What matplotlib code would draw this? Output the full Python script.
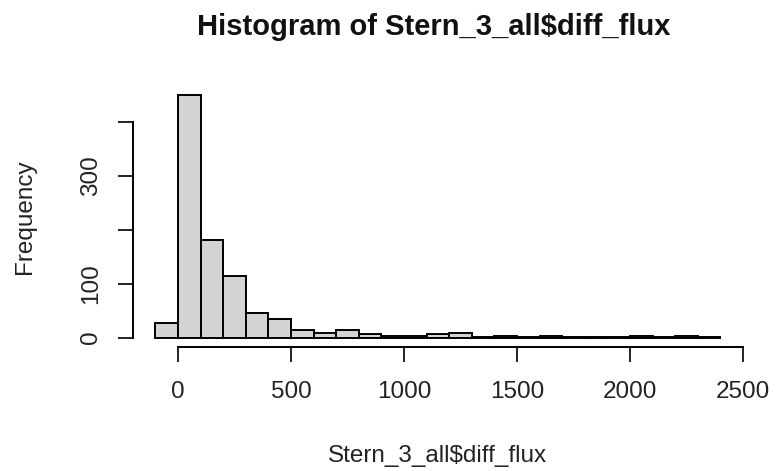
import matplotlib
matplotlib.use("Agg")
import matplotlib.pyplot as plt

bin_left = [-100, 0, 100, 200, 300, 400, 500, 600, 700, 800, 900, 1000, 1100, 1200,
            1300, 1400, 1500, 1600, 1700, 1800, 1900, 2000, 2100, 2200, 2300]
counts = [27, 450, 181, 114, 46, 34, 15, 9, 15, 6, 3, 3, 7, 8,
          1, 3, 1, 3, 2, 1, 1, 3, 2, 3, 2]
bin_width = 100
x_ticks = [0, 500, 1000, 1500, 2000, 2500]
y_ticks = [0, 100, 200, 300, 400]
y_tick_labels = ["0", "100", "", "300", ""]

plt.rcParams['font.family'] = ['Liberation Sans', 'DejaVu Sans']

W, H = 778, 471
fig = plt.figure(figsize=(W/100, H/100), dpi=100)
L, R, T, B = 132.7, 743, 85, 347.4
ax = fig.add_axes([L/W, 1-B/H, (R-L)/W, (B-T)/H])
ax.bar(bin_left, counts, width=bin_width, align='edge', color='#d3d3d3',
       edgecolor='black', linewidth=1.4)
ax.set_xlim(-200, 2500)
ax.set_ylim(-18, 468)
for s in ['top', 'right']:
    ax.spines[s].set_visible(False)
ax.spines['left'].set_bounds(0, 400)
ax.spines['bottom'].set_bounds(0, 2500)
for s in ['left', 'bottom']:
    ax.spines[s].set_linewidth(1.4)
ax.set_xticks(x_ticks)
ax.set_xticklabels([str(t) for t in x_ticks])
ax.set_yticks(y_ticks)
ax.set_yticklabels(y_tick_labels, rotation=90, va='center')
ax.tick_params(axis='both', length=11, width=1.4, labelsize=17.5, colors='#222222')
ax.tick_params(axis='x', pad=13)
ax.tick_params(axis='y', pad=11)

cx = (L + R) / 2
fig.text(cx/W - 0.005, 1-35/H, "Histogram of Stern_3_all$diff_flux", fontsize=21,
         fontweight='bold', ha='center', va='baseline', color='#111111')
fig.text(cx/W, 1-462/H, "Stern_3_all$diff_flux", fontsize=17.5,
         ha='center', va='baseline', color='#222222')
fig.text(25/W, 1-(T+B)/2/H, "Frequency", fontsize=17.5, rotation=90,
         ha='center', va='center', color='#222222')
fig.savefig("out.png", dpi=100)
